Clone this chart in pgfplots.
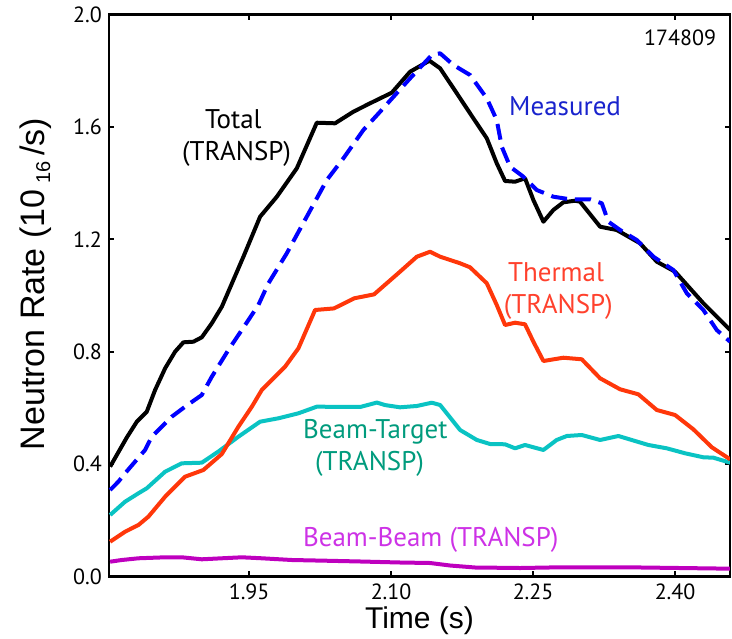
\documentclass[border=0pt]{standalone}
\usepackage{fontspec}
\setmainfont{PT Sans}
\newfontfamily\labelfont{Liberation Sans}
\usepackage{pgfplots}
\pgfplotsset{compat=1.18}

\definecolor{meascol}{RGB}{0,0,255}
\definecolor{meastext}{RGB}{25,35,205}
\definecolor{thermcol}{RGB}{255,55,10}
\definecolor{thermtext}{RGB}{255,65,45}
\definecolor{btcol}{RGB}{10,195,195}
\definecolor{bttext}{RGB}{0,155,125}
\definecolor{bbcol}{RGB}{190,0,190}
\definecolor{bbtext}{RGB}{205,50,230}
\newcommand\annot{\fontsize{13.5}{16}\selectfont}

\begin{document}
\begin{tikzpicture}
\begin{axis}[
  name=ax, scale only axis, width=310.5pt, height=281pt,
  xmin=1.802, xmax=2.458, ymin=0, ymax=2.0,
  xtick={1.95,2.10,2.25,2.40},
  xticklabels={1.95,2.10,2.25,2.40},
  ytick={0,0.4,0.8,1.2,1.6,2.0},
  yticklabels={0.0,0.4,0.8,1.2,1.6,2.0},
  tick align=inside, major tick length=2.5pt,
  every tick/.style={black, line width=1pt},
  axis line style={line width=1.3pt},
  tick label style={font=\fontsize{11}{13}\selectfont},
  xlabel={\labelfont\fontsize{15}{18}\selectfont Time (s)},
  ylabel={\labelfont\fontsize{17}{20}\selectfont Neutron Rate (10\,\raisebox{-0.3ex}{\fontsize{10}{10}\selectfont 16}\,/s)},
  xlabel style={at={(axis description cs:0.5,-0.079)}, anchor=center},
  ylabel style={at={(axis description cs:-0.1176,0.52)}, anchor=center},
  every axis plot/.append style={line width=2pt, line join=round},
]
% Beam-Beam (TRANSP)
\addplot[bbcol] coordinates {
(1.8032,0.0527) (1.8155,0.0587) (1.8331,0.0648) (1.8613,0.0683) (1.8789,0.0683)
(1.9000,0.0612) (1.9212,0.0648) (1.9423,0.0683) (1.9634,0.0648) (1.9951,0.0587)
(2.0303,0.0562) (2.0673,0.0534) (2.1094,0.0498) (2.1412,0.0480) (2.1623,0.0391)
(2.1887,0.0320) (2.2363,0.0302) (2.2785,0.0327) (2.3490,0.0327) (2.4581,0.0278)
};
% Beam-Target (TRANSP)
\addplot[btcol] coordinates {
(1.8032,0.2189) (1.8190,0.2662) (1.8331,0.2961) (1.8419,0.3139) (1.8613,0.3730)
(1.8789,0.4028) (1.9000,0.4050) (1.9176,0.4448) (1.9387,0.4975) (1.9616,0.5509)
(1.9809,0.5630) (2.0021,0.5808) (2.0215,0.6043) (2.0673,0.6032) (2.0850,0.6190)
(2.0937,0.6100) (2.1094,0.6021) (2.1272,0.6068) (2.1430,0.6185) (2.1518,0.6103)
(2.1729,0.5213) (2.1906,0.4858) (2.2046,0.4715) (2.2204,0.4705) (2.2310,0.4562)
(2.2415,0.4680) (2.2609,0.4502) (2.2749,0.4858) (2.2856,0.5000) (2.3014,0.5036)
(2.3208,0.4858) (2.3401,0.5000) (2.3718,0.4680) (2.3912,0.4562) (2.4106,0.4384)
(2.4299,0.4242) (2.4405,0.4228) (2.4581,0.4050)
};
% Thermal (TRANSP)
\addplot[thermcol] coordinates {
(1.8032,0.1238) (1.8190,0.1594) (1.8331,0.1833) (1.8436,0.2128) (1.8613,0.2840)
(1.8824,0.3552) (1.9017,0.3790) (1.9212,0.4359) (1.9387,0.5331) (1.9529,0.6043)
(1.9634,0.6637) (1.9880,0.7466) (2.0021,0.8121) (2.0197,0.9484) (2.0396,0.9540)
(2.0610,0.9900) (2.0820,1.0040) (2.1094,1.0847) (2.1272,1.1380) (2.1412,1.1558)
(2.1518,1.1381) (2.1729,1.1146) (2.1834,1.1003) (2.2011,1.0434) (2.2116,0.9662)
(2.2204,0.8950) (2.2310,0.9032) (2.2415,0.8975) (2.2503,0.8356) (2.2609,0.7669)
(2.2820,0.7786) (2.3014,0.7730) (2.3208,0.7053) (2.3419,0.6662) (2.3612,0.6484)
(2.3807,0.5925) (2.4000,0.5747) (2.4193,0.5238) (2.4388,0.4598) (2.4581,0.4171)
};
% Total (TRANSP)
\addplot[black] coordinates {
(1.8032,0.3910) (1.8208,0.4947) (1.8314,0.5509) (1.8419,0.5865) (1.8507,0.6637)
(1.8613,0.7409) (1.8718,0.8000) (1.8806,0.8334) (1.8912,0.8356) (1.9000,0.8512)
(1.9106,0.9011) (1.9212,0.9601) (1.9334,1.0552) (1.9440,1.1381) (1.9616,1.2804)
(1.9793,1.3516) (2.0004,1.4527) (2.0215,1.6149) (2.0408,1.6128) (2.0602,1.6541)
(2.0778,1.6840) (2.1007,1.7217) (2.1201,1.7964) (2.1405,1.8356) (2.1518,1.8085)
(2.1694,1.7196) (2.1869,1.6306) (2.2011,1.5594) (2.2116,1.4705) (2.2204,1.4075)
(2.2310,1.4050) (2.2415,1.4171) (2.2503,1.3398) (2.2609,1.2626) (2.2714,1.3043)
(2.2820,1.3317) (2.2944,1.3374) (2.2996,1.3338) (2.3208,1.2448) (2.3384,1.2331)
(2.3630,1.1858) (2.3807,1.1203) (2.4000,1.0847) (2.4299,0.9722) (2.4581,0.8772)
};
% Measured
\addplot[meascol, dash pattern=on 8pt off 4pt] coordinates {
(1.8032,0.3078) (1.8119,0.3374) (1.8190,0.3673) (1.8401,0.4502) (1.8472,0.4975)
(1.8683,0.5687) (1.8824,0.6043) (1.9000,0.6459) (1.9106,0.7110) (1.9281,0.8060)
(1.9458,0.8950) (1.9598,0.9662) (1.9704,1.0434) (1.9898,1.1502) (2.0109,1.2804)
(2.0321,1.4110) (2.0496,1.4882) (2.0707,1.5889) (2.0884,1.6541) (2.1042,1.7135)
(2.1201,1.7729) (2.1430,1.8559) (2.1518,1.8619) (2.1658,1.8203) (2.1834,1.7847)
(2.2011,1.7018) (2.2116,1.6245) (2.2169,1.5295) (2.2257,1.4584) (2.2397,1.4228)
(2.2539,1.3754) (2.2714,1.3516) (2.2891,1.3423) (2.3102,1.3423) (2.3226,1.3281)
(2.3295,1.2626) (2.3419,1.2331) (2.3595,1.1975) (2.3771,1.1381) (2.3982,1.0907)
(2.4124,1.0078) (2.4299,0.9484) (2.4440,0.8772) (2.4581,0.8356)
};
% labels
\node[anchor=base, font=\annot] at (axis cs:1.9334,1.5950) {Total};
\node[anchor=base, font=\annot] at (axis cs:1.9368,1.4822) {(TRANSP)};
\node[anchor=base, font=\annot, text=meastext] at (axis cs:2.2838,1.6399) {Measured};
\node[anchor=base, font=\annot, text=thermtext] at (axis cs:2.2742,1.0491) {Thermal};
\node[anchor=base, font=\annot, text=thermtext] at (axis cs:2.2767,0.9342) {(TRANSP)};
\node[anchor=base, font=\annot, text=bttext] at (axis cs:2.0834,0.4918) {Beam-Target};
\node[anchor=base, font=\annot, text=bttext] at (axis cs:2.0772,0.3790) {(TRANSP)};
\node[anchor=base, font=\annot, text=bbtext] at (axis cs:2.1419,0.1060) {Beam-Beam (TRANSP)};
\node[anchor=base east, font=\fontsize{11}{13}\selectfont, inner sep=0pt] at (axis cs:2.4437,1.89) {174809};
\end{axis}
\pgfresetboundingbox
\useasboundingbox ([xshift=-54.5pt,yshift=-31.25pt]ax.south west) rectangle ([xshift=1pt,yshift=7.25pt]ax.north east);
\end{tikzpicture}
\end{document}
